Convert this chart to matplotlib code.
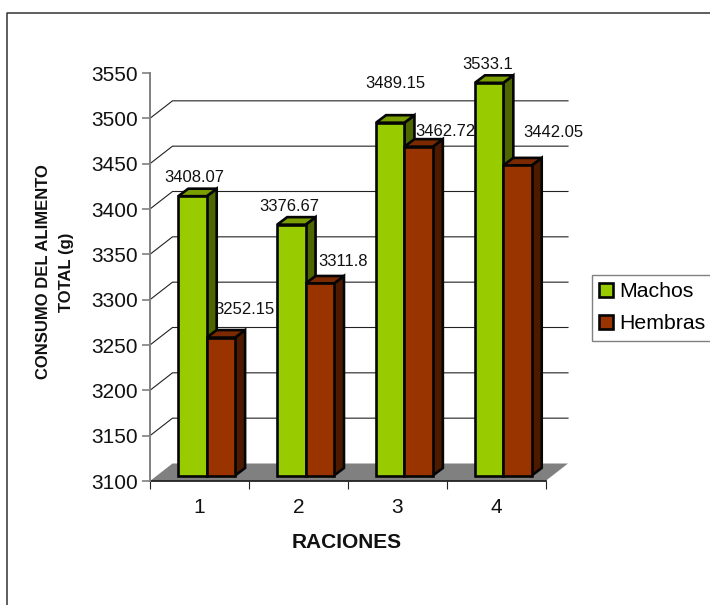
import matplotlib
matplotlib.use("Agg")
import matplotlib.pyplot as plt
from matplotlib.lines import Line2D
from matplotlib.patches import Patch, Polygon, Rectangle

plt.rcParams["font.family"] = ["Liberation Sans", "DejaVu Sans"]

# -------------------------
# Data
# -------------------------

categories = ["1", "2", "3", "4"]
machos = [3408.07, 3376.67, 3489.15, 3533.1]
hembras = [3252.15, 3311.8, 3462.72, 3442.05]
y_ticks = [3100, 3150, 3200, 3250, 3300, 3350, 3400, 3450, 3500, 3550]

# label offsets from the top of each bar, in pixels
machos_offsets = [(1.5, 19), (-2.3, 18.6), (5, 39.6), (-1, 18.8)]
hembras_offsets = [(24, 28.5), (23, 21.5), (26.4, 15.6), (35.5, 32.4)]

# -------------------------
# Layout (3D look of the old spreadsheet chart)
# -------------------------

W, H = 710, 605
LEFT, RIGHT, TOP, BOTTOM = 150, 545.5, 73, 481

px_x = 4 / (RIGHT - LEFT)      # one pixel in category units
px_y = 450 / (BOTTOM - TOP)    # one pixel in value units

wall_dx, wall_dy = 22.5 * px_x, 17.5 * px_y
bar_dx, bar_dy = 10 * px_x, 7.5 * px_y
lift = 5.5 * px_y
bar_w = 28.4 * px_x
bar_start = 28.3 * px_x

GREEN = ("#99CC00", "#7A9E00", "#4D6600")
RED = ("#993300", "#7A2900", "#4D1A00")
EDGE = "#050505"
AXIS_GRAY = "#808080"

fig = plt.figure(figsize=(W / 100, H / 100), dpi=100)
ax = fig.add_axes([LEFT / W, 1 - BOTTOM / H, (RIGHT - LEFT) / W, (BOTTOM - TOP) / H])
ax.set_xlim(0, 4)
ax.set_ylim(y_ticks[0], y_ticks[-1])
ax.patch.set_alpha(0)

# outer border
fig.add_artist(Line2D([7 / W, 7 / W, 1], [0, 1 - 13 / H, 1 - 13 / H], color="#333333", lw=1.1))

# floor
ax.add_patch(Polygon([(0, y_ticks[0]), (4, y_ticks[0]),
                      (4 + wall_dx, y_ticks[0] + wall_dy), (wall_dx, y_ticks[0] + wall_dy)],
                     facecolor=AXIS_GRAY, edgecolor="none", clip_on=False, zorder=1))

# back wall grid lines
for v in y_ticks[1:-1]:
    ax.plot([0, wall_dx, 4 + wall_dx], [v, v + wall_dy, v + wall_dy],
            color="#222222", lw=0.8, clip_on=False, zorder=1)


def draw_bar(x, value, colors, z):
    top = value + lift
    base = y_ticks[0] + lift
    style = dict(edgecolor=EDGE, lw=1.9, joinstyle="miter", clip_on=False, zorder=z)
    ax.add_patch(Polygon([(x + bar_w, base), (x + bar_w + bar_dx, base + bar_dy),
                          (x + bar_w + bar_dx, top + bar_dy), (x + bar_w, top)],
                         facecolor=colors[2], **style))
    ax.add_patch(Polygon([(x, top), (x + bar_dx, top + bar_dy),
                          (x + bar_w + bar_dx, top + bar_dy), (x + bar_w, top)],
                         facecolor=colors[1], **style))
    ax.add_patch(Rectangle((x, base), bar_w, value - y_ticks[0], facecolor=colors[0], **style))


for i in range(len(categories)):
    x0 = i + bar_start
    draw_bar(x0, machos[i], GREEN, 3 + i)
    draw_bar(x0 + bar_w, hembras[i], RED, 3 + i + 0.5)

# data labels
for i in range(len(categories)):
    for value, off, shift in [(machos[i], machos_offsets[i], 0), (hembras[i], hembras_offsets[i], bar_w)]:
        ax.annotate(f"{value:g}", xy=(i + bar_start + shift + bar_w / 2, value + lift),
                    xytext=off, textcoords="offset pixels", ha="center", va="center",
                    fontsize=12, color="#111111", zorder=20, annotation_clip=False)

# axes
for s in ["top", "right"]:
    ax.spines[s].set_visible(False)
ax.spines["left"].set_color(AXIS_GRAY)
ax.spines["left"].set_linewidth(1.4)
ax.spines["bottom"].set_color("#222222")
ax.spines["bottom"].set_linewidth(1.3)
ax.spines["bottom"].set_zorder(2)

ax.set_yticks(y_ticks)
ax.tick_params(axis="y", length=5.8, width=1.2, color=AXIS_GRAY, labelsize=15, pad=3, labelcolor="#111111")
ax.set_xticks(range(5))
ax.set_xticklabels([])
ax.set_xticks([i + 0.5 for i in range(len(categories))], labels=categories, minor=True)
ax.tick_params(axis="x", which="major", length=5.8, width=0.8, color="#222222")
ax.tick_params(axis="x", which="minor", length=0, labelsize=15, pad=12, labelcolor="#111111")

fig.text(347 / W, 1 - 542 / H, "RACIONES", fontsize=15, fontweight="bold",
         ha="center", va="center", color="#111111")
fig.text(55 / W, 1 - 272 / H, "CONSUMO DEL ALIMENTO\nTOTAL (g)", fontsize=12, fontweight="bold",
         rotation=90, ha="center", va="center", multialignment="center", color="#111111",
         linespacing=1.65)

# legend
handles = [Patch(facecolor=GREEN[0], edgecolor=EDGE, lw=1.9, label="Machos"),
           Patch(facecolor=RED[0], edgecolor=EDGE, lw=1.9, label="Hembras")]
fig.legend(handles=handles, loc="upper left", bbox_to_anchor=(592 / W, 1 - 275 / H),
           bbox_transform=fig.transFigure, borderaxespad=0, fontsize=15.3, frameon=True,
           fancybox=False, framealpha=1, edgecolor=AXIS_GRAY,
           handlelength=0.67, handleheight=0.67, handletextpad=0.25,
           labelspacing=0.62, borderpad=0.34)

plt.savefig("out.png", dpi=100)
